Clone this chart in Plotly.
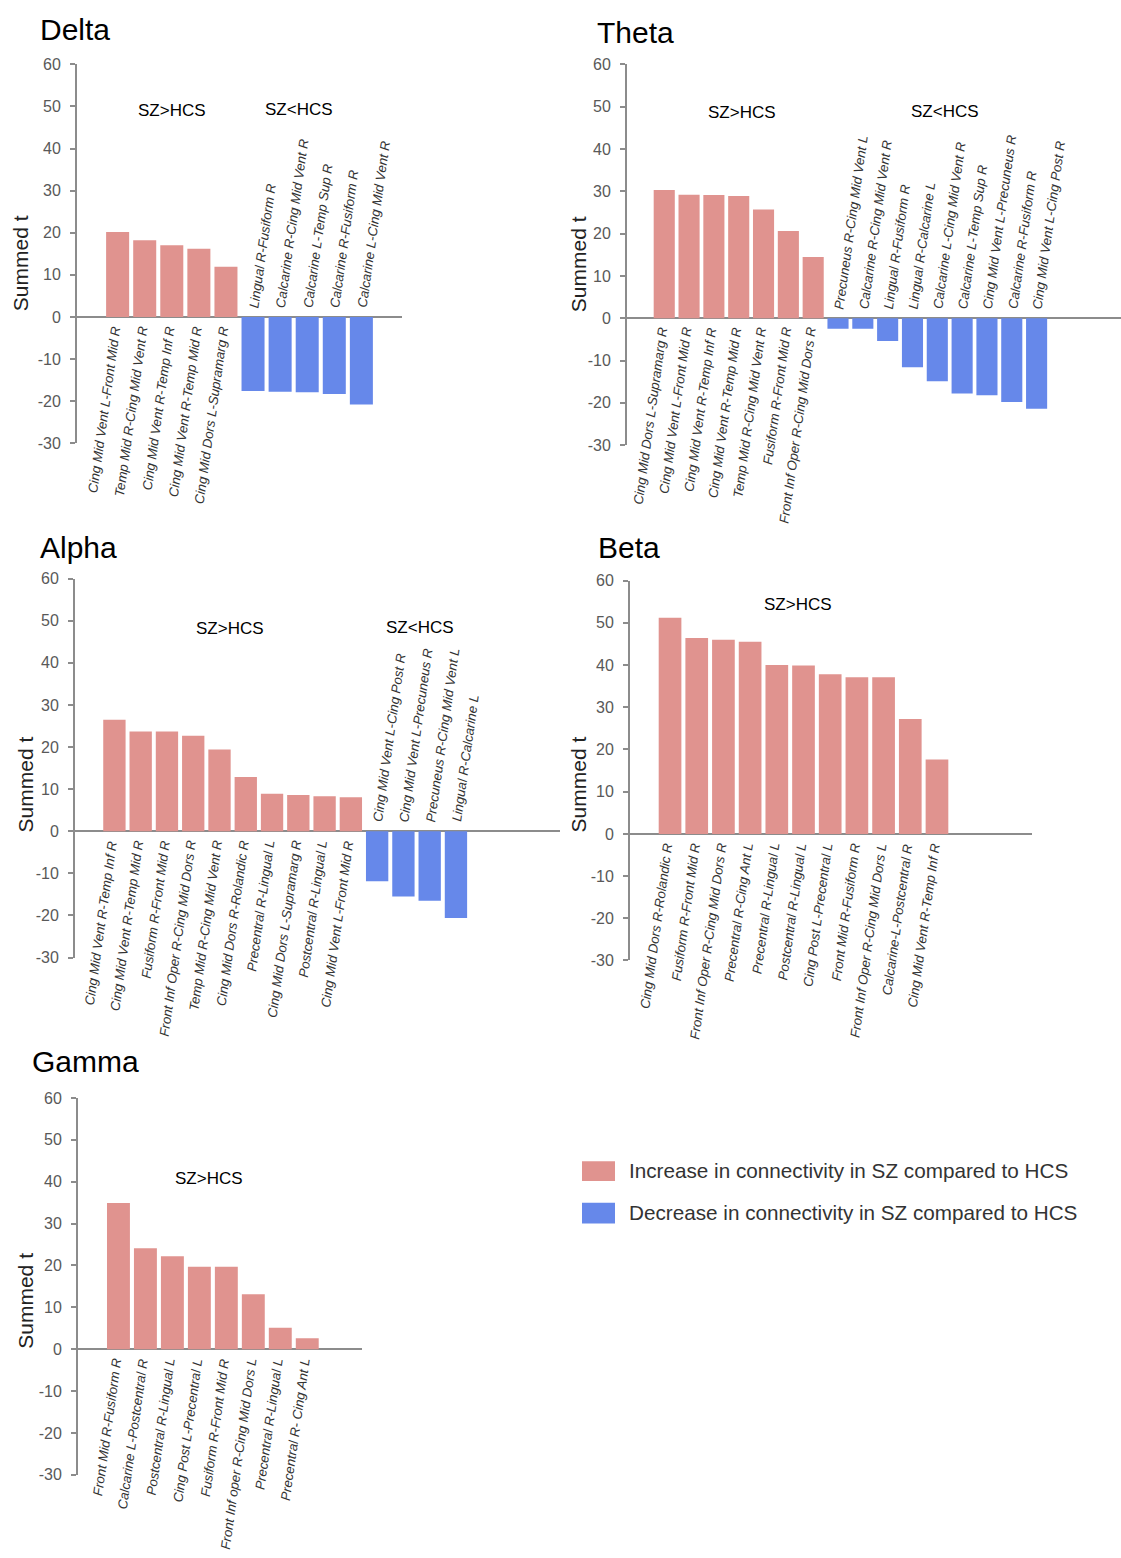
import plotly.graph_objects as go

W, H = 1121, 1558

# ---------------- data ----------------
delta_labels = ["Cing Mid Vent L-Front Mid R", "Temp Mid R-Cing Mid Vent R", "Cing Mid Vent R-Temp Inf R",
                "Cing Mid Vent R-Temp Mid R", "Cing Mid Dors L-Supramarg R", "Lingual R-Fusiform R",
                "Calcarine R-Cing Mid Vent R", "Calcarine L-Temp Sup R", "Calcarine R-Fusiform R",
                "Calcarine L-Cing Mid Vent R"]
delta_values = [20.2, 18.2, 17.0, 16.2, 11.9, -17.6, -17.8, -17.9, -18.3, -20.8]

theta_labels = ["Cing Mid Dors L-Supramarg R", "Cing Mid Vent L-Front Mid R", "Cing Mid Vent R-Temp Inf R",
                "Cing Mid Vent R-Temp Mid R", "Temp Mid R-Cing Mid Vent R", "Fusiform R-Front Mid R",
                "Front Inf Oper R-Cing Mid Dors R", "Precuneus R-Cing Mid Vent L", "Calcarine R-Cing Mid Vent R",
                "Lingual R-Fusiform R", "Lingual R-Calcarine L", "Calcarine L-Cing Mid Vent R",
                "Calcarine L-Temp Sup R", "Cing Mid Vent L-Precuneus R", "Calcarine R-Fusiform R",
                "Cing Mid Vent L-Cing Post R"]
theta_values = [30.3, 29.2, 29.1, 28.9, 25.7, 20.6, 14.5, -2.5, -2.5, -5.4, -11.6, -14.9, -17.8, -18.2, -19.8, -21.4]

alpha_labels = ["Cing Mid Vent R-Temp Inf R", "Cing Mid Vent R-Temp Mid R", "Fusiform R-Front Mid R",
                "Front Inf Oper R-Cing Mid Dors R", "Temp Mid R-Cing Mid Vent R", "Cing Mid Dors R-Rolandic R",
                "Precentral R-Lingual L", "Cing Mid Dors L-Supramarg R", "Postcentral R-Lingual L",
                "Cing Mid Vent L-Front Mid R", "Cing Mid Vent L-Cing Post R", "Cing Mid Vent L-Precuneus R",
                "Precuneus R-Cing Mid Vent L", "Lingual R-Calcarine L"]
alpha_values = [26.5, 23.7, 23.7, 22.7, 19.4, 12.9, 8.9, 8.6, 8.3, 8.1, -11.9, -15.5, -16.5, -20.6]

beta_labels = ["Cing Mid Dors R-Rolandic R", "Fusiform R-Front Mid R", "Front Inf Oper R-Cing Mid Dors R",
               "Precentral R-Cing Ant L", "Precentral R-Lingual L", "Postcentral R-Lingual L",
               "Cing Post L-Precentral L", "Front Mid R-Fusiform R", "Front Inf Oper R-Cing Mid Dors L",
               "Calcarine-L-Postcentral R", "Cing Mid Vent R-Temp Inf R"]
beta_values = [51.2, 46.4, 46.0, 45.5, 40.0, 39.9, 37.8, 37.1, 37.1, 27.2, 17.6]

gamma_labels = ["Front Mid R-Fusiform R", "Calcarine L-Postcentral R", "Postcentral R-Lingual L",
                "Cing Post L-Precentral L", "Fusiform R-Front Mid R", "Front Inf oper R-Cing Mid Dors L",
                "Precentral R-Lingual L", "Precentral R- Cing Ant L"]
gamma_values = [34.9, 24.1, 22.2, 19.7, 19.7, 13.1, 5.1, 2.6]

y_ticks = [-30, -20, -10, 0, 10, 20, 30, 40, 50, 60]
y_ticktext = ["-30", "-20", "-10", "0", "10", "20", "30", "40", "50", "60"]

legend_texts = ["Increase in connectivity in SZ compared to HCS",
                "Decrease in connectivity in SZ compared to HCS"]

# ---------------- style ----------------
PINK = "#E0938F"
BLUE = "#6688EA"
AXC = "#8c8c8c"
FONT = "Liberation Sans, Arial, sans-serif"


def fx(x):
    return x / W


def fy(y):
    return 1 - y / H


panels = [
    dict(name="Delta", labels=delta_labels, values=delta_values, box=(77, 402, 57, 440), xr=(-1.5, 10.5),
         title=(38, 22), ylab=(20, 258), groups=[("SZ>HCS", 172, 104), ("SZ<HCS", 299, 103)]),
    dict(name="Theta", labels=theta_labels, values=theta_values, box=(627, 1121, 57, 442), xr=(-1.5, 18.4),
         title=(595, 25), ylab=(578, 259), groups=[("SZ>HCS", 742, 106), ("SZ<HCS", 945, 105)]),
    dict(name="Alpha", labels=alpha_labels, values=alpha_values, box=(75, 560, 577, 960), xr=(-1.5, 16.96),
         title=(38, 545), ylab=(25, 785), groups=[("SZ>HCS", 230, 627), ("SZ<HCS", 420, 626)]),
    dict(name="Beta", labels=beta_labels, values=beta_values, box=(630, 1032, 579, 963), xr=(-1.5, 13.56),
         title=(596, 545), ylab=(578, 785), groups=[("SZ>HCS", 798, 603)]),
    dict(name="Gamma", labels=gamma_labels, values=gamma_values, box=(78, 362, 1102, 1483), xr=(-1.5, 9.03),
         title=(30, 1065), ylab=(26, 1307), groups=[("SZ>HCS", 209, 1183)]),
]

fig = go.Figure()
annotations = []
shapes = []
layout = dict(width=W, height=H, margin=dict(l=0, r=0, t=0, b=0), paper_bgcolor="white",
              plot_bgcolor="white", showlegend=False, font=dict(family=FONT))

for k, p in enumerate(panels, start=1):
    xa = "x" if k == 1 else f"x{k}"
    ya = "y" if k == 1 else f"y{k}"
    n = len(p["values"])
    xs = list(range(n))
    colors = [PINK if v >= 0 else BLUE for v in p["values"]]
    fig.add_trace(go.Bar(x=xs, y=p["values"], marker=dict(color=colors, line=dict(width=0)),
                         width=0.85, xaxis=xa, yaxis=ya, hoverinfo="skip"))
    x0, x1, y0, y1 = p["box"]
    layout["xaxis" if k == 1 else f"xaxis{k}"] = dict(domain=[fx(x0), min(1.0, fx(x1))], range=list(p["xr"]),
                                                      visible=False, anchor=ya)
    layout["yaxis" if k == 1 else f"yaxis{k}"] = dict(
        domain=[fy(y1), fy(y0)], range=[-30, 60], anchor=xa, tickvals=y_ticks, ticktext=y_ticktext,
        showgrid=False, showline=True, linecolor=AXC, linewidth=2, ticks="outside", ticklen=5,
        tickwidth=2, tickcolor=AXC, zeroline=True, zerolinecolor=AXC, zerolinewidth=2,
        tickfont=dict(size=16, color="#595959", family=FONT), ticklabelstandoff=6)
    # bar labels
    for i, (lab, v) in enumerate(zip(p["labels"], p["values"])):
        if v >= 0:
            annotations.append(dict(x=i, y=0, xref=xa, yref=ya, text=lab, showarrow=False, textangle=-82,
                                    xanchor="right", yanchor="top", xshift=8, yshift=-6,
                                    font=dict(size=13.3, color="#333333", family=FONT, style="italic")))
        else:
            annotations.append(dict(x=i, y=0, xref=xa, yref=ya, text=lab, showarrow=False, textangle=-82,
                                    xanchor="left", yanchor="bottom", xshift=-9, yshift=6,
                                    font=dict(size=13.3, color="#333333", family=FONT, style="italic")))
    # panel title
    tx, ty = p["title"]
    annotations.append(dict(x=fx(tx), y=fy(ty), xref="paper", yref="paper", text=p["name"], showarrow=False,
                            xanchor="left", yanchor="middle", font=dict(size=30, color="black", family=FONT)))
    # y title
    lx, ly = p["ylab"]
    annotations.append(dict(x=fx(lx), y=fy(ly), xref="paper", yref="paper", text="Summed t", showarrow=False,
                            textangle=-90, xanchor="center", yanchor="middle",
                            font=dict(size=21, color="#222222", family=FONT)))
    # group labels
    for g, gx, gy in p["groups"]:
        annotations.append(dict(x=fx(gx), y=fy(gy), xref="paper", yref="paper", text=g, showarrow=False,
                                xanchor="center", yanchor="middle", font=dict(size=17, color="black", family=FONT)))

# legend
legend_colors = [PINK, BLUE]
legend_rows = [(1166, 1186, 1175), (1208, 1229, 1218)]
for (t, c, (sy0, sy1, ty)) in zip(legend_texts, legend_colors, legend_rows):
    shapes.append(dict(type="rect", xref="paper", yref="paper", x0=fx(582), x1=fx(615), y0=fy(sy1), y1=fy(sy0),
                       fillcolor=c, line=dict(width=0)))
    annotations.append(dict(x=fx(627), y=fy(ty), xref="paper", yref="paper", text=t, showarrow=False,
                            xanchor="left", yanchor="middle", font=dict(size=20.7, color="#333333", family=FONT)))

layout["annotations"] = annotations
layout["shapes"] = shapes
fig.update_layout(**layout)
fig.write_html("out.html", config={"displayModeBar": False},
               post_script="document.body.style.margin='0px';"
                           "document.body.style.overflow='hidden';"
                           "document.documentElement.style.overflow='hidden';")
